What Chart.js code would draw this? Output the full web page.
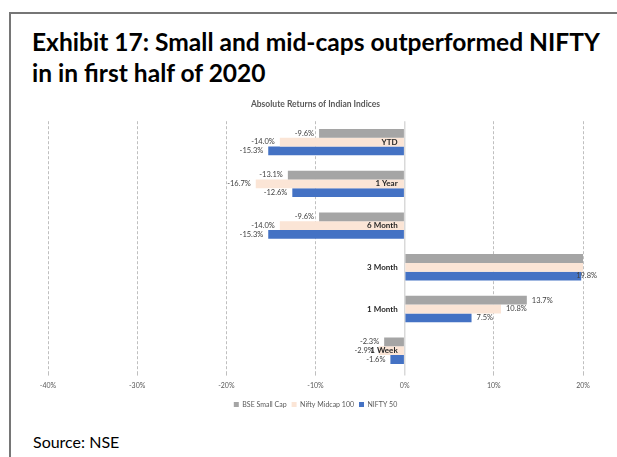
<!DOCTYPE html>
<html>
<head>
<meta charset="utf-8">
<script src="https://cdn.jsdelivr.net/npm/chart.js@4"></script>
<style>
  body { margin: 0; width: 617px; height: 457px; overflow: hidden; background: #fff; position: relative; font-family: Lato, sans-serif; }
  #frame { position: absolute; left: 9px; top: 12px; width: 640px; height: 480px; border-left: 2px solid #767676; border-top: 2px solid #767676; }
  .head { position: absolute; left: 32px; font-weight: bold; font-size: 22px; line-height: 22px; color: #000; white-space: nowrap; }
  #source { position: absolute; left: 33px; top: 434px; font-size: 16px; line-height: 16px; color: #000; white-space: nowrap; }
  #wrap { position: absolute; left: 0; top: 96px; width: 617px; height: 322px; }
</style>
</head>
<body>
<div id="frame"></div>
<div class="head" id="h1" style="top:31px">Exhibit 17: Small and mid-caps outperformed NIFTY</div>
<div class="head" id="h2" style="top:62px">in in first half of 2020</div>
<div id="source">Source: NSE</div>
<div id="wrap"><canvas id="chart"></canvas></div>
<script>
const categories = ["YTD", "1 Year", "6 Month", "3 Month", "1 Month", "1 Week"];
const seriesNames = ["BSE Small Cap", "Nifty Midcap 100", "NIFTY 50"];
const bseSmallCap = [-9.6, -13.1, -9.6, 21.5, 13.7, -2.3];
const niftyMidcap100 = [-14.0, -16.7, -14.0, 20.6, 10.8, -2.9];
const nifty50 = [-15.3, -12.6, -15.3, 19.8, 7.5, -1.6];
const xTicks = [-40, -30, -20, -10, 0, 10, 20];
const colors = ["#a5a5a5", "#fbe5d6", "#4472c4"];

// fit the heading to the width it has in the picture
function fitHeading() {
  const h1 = document.getElementById("h1");
  const w = h1.getBoundingClientRect().width;
  const size = 22 * 568 / w;
  document.querySelectorAll(".head").forEach(el => el.style.fontSize = size + "px");
}

const barLabels = {
  id: "barLabels",
  afterDatasetsDraw(chart) {
    const ctx = chart.ctx;
    const area = chart.chartArea;
    const x = chart.scales.x;
    const y = chart.scales.y;
    ctx.save();
    ctx.font = "7.5px Lato";
    ctx.fillStyle = "#404040";
    ctx.textBaseline = "middle";
    chart.data.datasets.forEach((ds, i) => {
      chart.getDatasetMeta(i).data.forEach((bar, j) => {
        const v = ds.data[j];
        if (v > x.max || v < x.min) return;
        const txt = v.toFixed(1) + "%";
        if (v < 0) {
          ctx.textAlign = "right";
          ctx.fillText(txt, bar.x - 5, bar.y);
        } else {
          ctx.textAlign = "left";
          const w = ctx.measureText(txt).width;
          ctx.fillText(txt, Math.min(bar.x + 5, area.right + 14 - w), bar.y);
        }
      });
    });
    ctx.font = "bold 8px Lato";
    ctx.fillStyle = "#262626";
    ctx.textAlign = "right";
    const x0 = x.getPixelForValue(0);
    categories.forEach((c, i) => ctx.fillText(c, x0 - 7, y.getPixelForValue(i)));
    ctx.restore();
  }
};

function draw() {
  fitHeading();
  new Chart(document.getElementById("chart"), {
    type: "bar",
    data: {
      labels: categories,
      datasets: [
        { label: seriesNames[0], data: bseSmallCap, backgroundColor: colors[0] },
        { label: seriesNames[1], data: niftyMidcap100, backgroundColor: colors[1] },
        { label: seriesNames[2], data: nifty50, backgroundColor: colors[2] }
      ]
    },
    options: {
      indexAxis: "y",
      responsive: true,
      maintainAspectRatio: false,
      animation: false,
      categoryPercentage: 0.63,
      barPercentage: 1,
      layout: { padding: { left: 48, right: 34, top: 0, bottom: 0 } },
      scales: {
        x: {
          min: -40,
          max: 20,
          afterBuildTicks: s => { s.ticks = xTicks.map(v => ({ value: v })); },
          ticks: { callback: v => v + "%", color: "#595959", font: { family: "Lato", size: 7 }, padding: 6, maxRotation: 0 },
          grid: {
            color: c => c.tick && c.tick.value === 0 ? "#d9d9d9" : "#bfbfbf",
            lineWidth: c => c.tick && c.tick.value === 0 ? 1.5 : 1,
            tickLength: 4
          },
          border: { display: false, dash: c => c.tick && c.tick.value === 0 ? [] : [3, 2] }
        },
        y: { display: false }
      },
      plugins: {
        title: {
          display: true,
          text: "Absolute Returns of Indian Indices",
          color: "#595959",
          font: { family: "Lato", size: 8.5, weight: "bold" },
          padding: { top: 3, bottom: 12 }
        },
        legend: {
          position: "bottom",
          labels: { boxWidth: 5, boxHeight: 5, padding: 5, color: "#595959", font: { family: "Lato", size: 7 } }
        },
        tooltip: { enabled: false }
      }
    },
    plugins: [barLabels]
  });
}

if (document.fonts && document.fonts.load) {
  Promise.all([document.fonts.load("bold 22px Lato"), document.fonts.load("7px Lato")]).then(draw, draw);
} else {
  draw();
}
</script>
</body>
</html>
